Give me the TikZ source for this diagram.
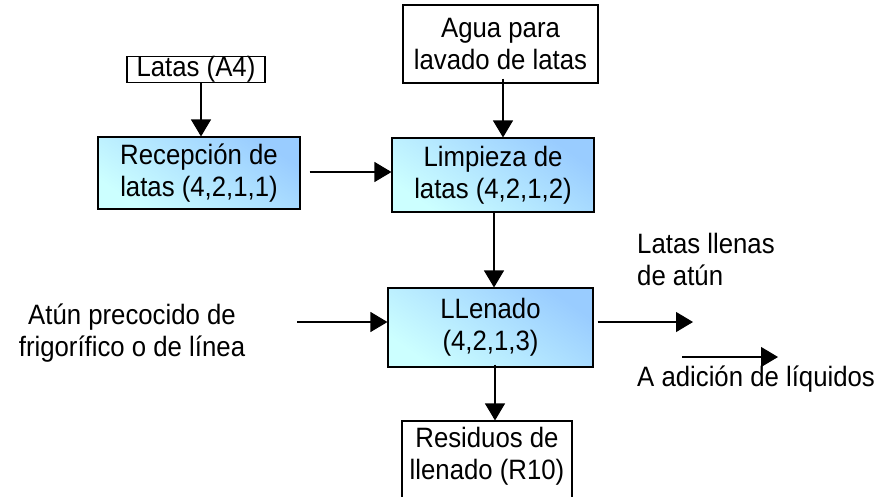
\documentclass[tikz,border=0pt]{standalone}
\usepackage{fontspec}
\setmainfont{Liberation Sans}[FakeStretch=0.92]
\usetikzlibrary{arrows.meta}
\definecolor{boxtop}{HTML}{99CCFF}
\definecolor{boxbot}{HTML}{CCFFFF}
\tikzset{
  txt/.style={inner sep=0pt, align=center, font=\fontsize{28}{32}\selectfont},
  plainbox/.style={draw=black, line width=1.1pt, fill=white, inner sep=0pt, align=center, font=\fontsize{28}{32}\selectfont},
  procbox/.style={draw=black, line width=1.1pt, inner sep=0pt, align=center, font=\fontsize{28}{32}\selectfont,
     top color=boxtop, bottom color=boxbot, shading angle=-35},
  arr/.style={line width=1.1pt, -{Triangle[width=20pt,length=17pt]}},
}
\begin{document}
\begin{tikzpicture}[x=1pt,y=-1pt]
\clip (0,0) rectangle (885,496);
\fill[white] (0,0) rectangle (885,496);
% boxes
\node[plainbox, minimum width=138pt, minimum height=25pt] (latas) at (196,69.5) {Latas (A4)};
\node[plainbox, minimum width=195pt, minimum height=78pt] (agua) at (500.5,44) {Agua para\\lavado de latas};
\node[procbox, minimum width=202pt, minimum height=72pt] (recep) at (199,173) {Recepción de\\latas (4,2,1,1)};
\node[procbox, minimum width=202pt, minimum height=74pt] (limp) at (493,175) {Limpieza de\\latas (4,2,1,2)};
\node[procbox, minimum width=205pt, minimum height=79pt] (llen) at (490.5,327.5) {LLenado\\(4,2,1,3)};
\node[plainbox, minimum width=170pt, minimum height=90pt] (resbox) at (487,466) {};
\node[txt] (res) at (487,456) {Residuos de\\llenado (R10)};
% free texts
\node[txt] (atun) at (132,333) {Atún precocido de\\frigorífico o de línea};
\node[txt, align=left, anchor=west] (llenas) at (637,259) {Latas llenas\\de atún};
\node[txt, anchor=west] (liq) at (637,379) {A adición de líquidos};
% free ends
\coordinate (in1) at (297,322);
\coordinate (out1) at (693,322);
\coordinate (a1) at (682,357);
\coordinate (a2) at (778,357);
% connectors
\draw[arr] ([xshift=5pt]latas.south) -- ([xshift=5pt]latas.south |- recep.north);
\draw[arr] ([xshift=9pt,yshift=1pt]recep.east) -- ([yshift=1pt]limp.west |- recep.east);
\draw[arr] ([xshift=2.5pt,yshift=5pt]agua.south) -- ([xshift=2.5pt]agua.south |- limp.north);
\draw[arr] ([xshift=1pt]limp.south) -- ([xshift=1pt]limp.south |- llen.north);
\draw[arr] (in1) -- (in1 -| llen.west);
\draw[arr] ([xshift=4pt]llen.east |- out1) -- (out1);
\draw[arr] (a1) -- (a2);
\draw[arr] ([xshift=4.5pt,yshift=3pt]llen.south) -- ([xshift=4.5pt]llen.south |- resbox.north);
\end{tikzpicture}
\end{document}
